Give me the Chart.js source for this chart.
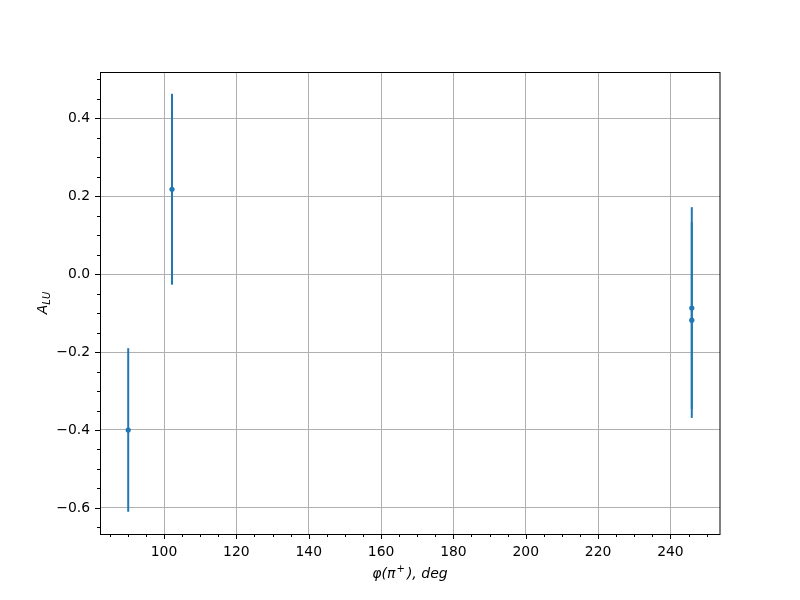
<!DOCTYPE html>
<html>
<head>
<meta charset="utf-8">
<script src="https://cdn.jsdelivr.net/npm/chart.js@4/dist/chart.umd.min.js"></script>
<style>
html,body{margin:0;padding:0;background:#fff;}
#wrap{width:800px;height:600px;}
</style>
</head>
<body>
<div id="wrap"><canvas id="c" width="800" height="600"></canvas></div>
<script>
// ---- data ----
const xValues = [90.1, 102.2, 245.9, 245.9];
const yValues = [-0.400, 0.218, -0.087, -0.118];
const yErrors = [0.210, 0.245, 0.259, 0.251];
const xTicks = [100, 120, 140, 160, 180, 200, 220, 240];
const yTicks = [-0.6, -0.4, -0.2, 0.0, 0.2, 0.4];
const xRange = [82.3, 253.7];
const yRange = [-0.667, 0.519];
const xLabelParts = ['φ(π', '+', '), deg'];
const yLabelMain = 'A';
const yLabelSub = 'LU';

const blue = '#1f77b4';
const FONT = '"DejaVu Sans", sans-serif';

const points = xValues.map((x, i) => ({x: x, y: yValues[i]}));

const extrasPlugin = {
  id: 'extras',
  beforeDatasetsDraw(chart) {
    const ctx = chart.ctx, xs = chart.scales.x, ys = chart.scales.y;
    ctx.save();
    ctx.strokeStyle = blue;
    ctx.lineWidth = 2;
    ctx.lineCap = 'butt';
    for (let i = 0; i < xValues.length; i++) {
      const px = xs.getPixelForValue(xValues[i]);
      const top = ys.getPixelForValue(yValues[i] + yErrors[i]);
      const bot = ys.getPixelForValue(yValues[i] - yErrors[i]);
      ctx.beginPath();
      ctx.moveTo(px, top);
      ctx.lineTo(px, bot);
      ctx.stroke();
    }
    ctx.restore();
  },
  afterDraw(chart) {
    const ctx = chart.ctx, xs = chart.scales.x, ys = chart.scales.y;
    const a = chart.chartArea;
    ctx.save();
    // frame
    ctx.strokeStyle = '#000';
    ctx.lineWidth = 1;
    ctx.strokeRect(Math.round(a.left) + 0.5, Math.round(a.top) + 0.5,
                   Math.round(a.right - a.left) - 1 + 0.5, Math.round(a.bottom - a.top));
    // major ticks
    ctx.beginPath();
    xTicks.forEach(v => {
      const p = Math.round(xs.getPixelForValue(v)) + 0.5;
      ctx.moveTo(p, a.bottom); ctx.lineTo(p, a.bottom + 5);
    });
    yTicks.forEach(v => {
      const p = Math.round(ys.getPixelForValue(v)) + 0.5;
      ctx.moveTo(a.left, p); ctx.lineTo(a.left - 5, p);
    });
    // minor ticks
    for (let v = 85; v <= xRange[1]; v += 5) {
      if (v % 20 === 0) continue;
      const p = Math.round(xs.getPixelForValue(v)) + 0.5;
      ctx.moveTo(p, a.bottom); ctx.lineTo(p, a.bottom + 3);
    }
    for (let k = -13; k <= 10; k++) {
      const v = k * 0.05;
      if (k % 4 === 0) continue;
      if (v < yRange[0] || v > yRange[1]) continue;
      const p = Math.round(ys.getPixelForValue(v)) + 0.5;
      ctx.moveTo(a.left, p); ctx.lineTo(a.left - 3, p);
    }
    ctx.stroke();
    // x axis label with superscript
    ctx.fillStyle = '#000';
    ctx.textBaseline = 'alphabetic';
    ctx.textAlign = 'left';
    const big = 'italic 14px ' + FONT, small = 'italic 10px ' + FONT;
    ctx.font = big; const w0 = ctx.measureText(xLabelParts[0]).width;
    ctx.font = small; const w1 = ctx.measureText(xLabelParts[1]).width + 3;
    ctx.font = big; const w2 = ctx.measureText(xLabelParts[2]).width;
    let sx = (a.left + a.right) / 2 - (w0 + w1 + w2) / 2;
    const by = 578;
    ctx.font = big; ctx.fillText(xLabelParts[0], sx, by);
    ctx.font = small; ctx.fillText(xLabelParts[1], sx + w0 + 1, by - 6);
    ctx.font = big; ctx.fillText(xLabelParts[2], sx + w0 + w1, by);
    // y label with subscript
    ctx.translate(47, (a.top + a.bottom) / 2);
    ctx.rotate(-Math.PI / 2);
    ctx.font = big;
    const wA = ctx.measureText(yLabelMain).width;
    ctx.font = small;
    const wS = ctx.measureText(yLabelSub).width;
    const start = -(wA + wS) / 2;
    ctx.font = big;
    ctx.fillText(yLabelMain, start, 0);
    ctx.font = small;
    ctx.fillText(yLabelSub, start + wA, 3);
    ctx.restore();
  }
};

new Chart(document.getElementById('c'), {
  type: 'scatter',
  data: {
    datasets: [{
      data: points,
      backgroundColor: blue,
      borderColor: blue,
      pointRadius: 2.6,
      pointBorderWidth: 0,
      pointHoverRadius: 2.6,
      showLine: false
    }]
  },
  options: {
    responsive: false,
    animation: false,
    devicePixelRatio: 1,
    layout: {padding: {left: 0, top: 72, right: 80, bottom: 0}},
    plugins: {legend: {display: false}, tooltip: {enabled: false}},
    scales: {
      x: {
        type: 'linear',
        min: xRange[0], max: xRange[1],
        afterBuildTicks: s => { s.ticks = xTicks.map(v => ({value: v})); },
        afterFit: s => { s.height = 66; },
        grid: {color: '#b0b0b0', lineWidth: 1, drawTicks: false},
        border: {display: false},
        ticks: {
          color: '#000', padding: 10, maxRotation: 0, autoSkip: false,
          font: {family: FONT, size: 13.9},
          callback: v => String(v)
        }
      },
      y: {
        type: 'linear',
        min: yRange[0], max: yRange[1],
        afterBuildTicks: s => { s.ticks = yTicks.map(v => ({value: v})); },
        afterFit: s => { s.width = 100; },
        grid: {color: '#b0b0b0', lineWidth: 1, drawTicks: false},
        border: {display: false},
        ticks: {
          color: '#000', padding: 10, autoSkip: false,
          font: {family: FONT, size: 13.9},
          callback: v => v.toFixed(1).replace('-', '\u2212')
        }
      }
    }
  },
  plugins: [extrasPlugin]
});
</script>
</body>
</html>
